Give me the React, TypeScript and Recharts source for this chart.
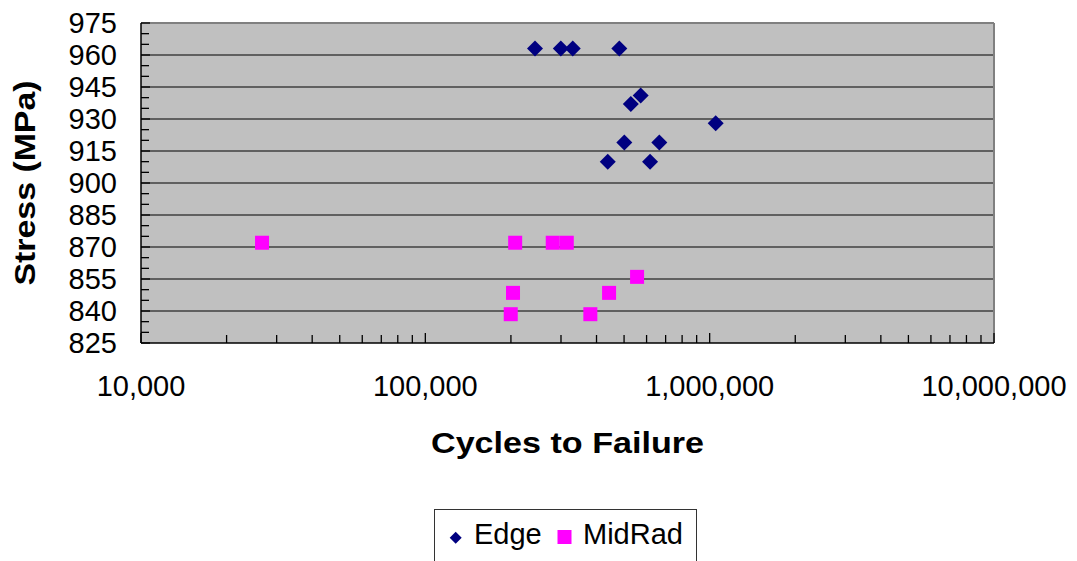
import React from 'react';
import { ScatterChart, Scatter, XAxis, YAxis, CartesianGrid, ReferenceLine, Legend, Label } from 'recharts';

const edgeCycles = [243000, 299500, 330000, 481000, 572000, 528000, 1050000, 501000, 665000, 438000, 617000];
const edgeStress = [963, 963, 963, 963, 941, 937, 928, 919, 919, 910, 910];
const midCycles = [26650, 207000, 280600, 314400, 555500, 203400, 442800, 199700, 380500];
const midStress = [872, 872, 872, 872, 856, 848.5, 848.5, 838.5, 838.5];

const xDecades = [10000, 100000, 1000000, 10000000];
const xMultipliers = [1, 2, 3, 4, 5, 6, 7, 8, 9];
const yMajorTicks = [825, 840, 855, 870, 885, 900, 915, 930, 945, 960, 975];
const yGridValues = [840, 855, 870, 885, 900, 915, 930, 945, 960];

const xTicks: number[] = [];
xDecades.forEach((d, i) => {
  if (i === xDecades.length - 1) xTicks.push(d);
  else xMultipliers.forEach((m) => xTicks.push(d * m));
});
const yTicks: number[] = [];
for (let v = 825; v <= 975; v += 5) yTicks.push(v);

const edgeData = edgeCycles.map((c, i) => ({ x: c, y: edgeStress[i] }));
const midData = midCycles.map((c, i) => ({ x: c, y: midStress[i] }));

const FONT = '"Liberation Sans", Arial, sans-serif';

const XTick = (props: any) => {
  const { x, y, payload } = props;
  const v = payload.value;
  const major = xDecades.includes(v);
  return (
    <g>
      <line x1={x} x2={x} y1={y} y2={y - (major ? 10 : 8)} stroke="#000" strokeWidth={1.3} />
      {major && (
        <text x={x} y={y + 53} textAnchor="middle" fontFamily={FONT} fontSize={29} fill="#000">
          {v.toLocaleString('en-US')}
        </text>
      )}
    </g>
  );
};

const YTick = (props: any) => {
  const { x, y, payload } = props;
  const v = payload.value;
  const major = yMajorTicks.includes(v);
  return (
    <g>
      <line x1={x} x2={x + (major ? 9 : 8)} y1={y} y2={y} stroke="#000" strokeWidth={1.3} />
      {major && (
        <text x={x - 24} y={y + 10} textAnchor="end" fontFamily={FONT} fontSize={29} fill="#000">
          {v}
        </text>
      )}
    </g>
  );
};

const Diamond = (props: any) => {
  const { cx, cy } = props;
  const r = 8;
  return <polygon points={`${cx},${cy - r} ${cx + r},${cy} ${cx},${cy + r} ${cx - r},${cy}`} fill="#000080" />;
};

const Square = (props: any) => {
  const { cx, cy } = props;
  const s = 14;
  return <rect x={cx - s / 2} y={cy - s / 2} width={s} height={s} fill="#FF00FF" />;
};

const LegendBox = () => (
  <div style={{ width: 263, height: 52, boxSizing: 'border-box', border: '1px solid #333', borderBottom: 'none', background: '#fff' }}>
    <svg width={261} height={52} style={{ display: 'block' }}>
      <polygon points="20.7,21.7 26.7,27.7 20.7,33.7 14.7,27.7" fill="#000080" />
      <text x={39} y={34} fontFamily={FONT} fontSize={29} fill="#000">Edge</text>
      <rect x={122.5} y={20} width={14} height={14} fill="#FF00FF" />
      <text x={148} y={34} fontFamily={FONT} fontSize={29} fill="#000">MidRad</text>
    </svg>
  </div>
);

export default function App() {
  return (
    <div style={{ position: 'absolute', left: 0, top: 0, width: 1077, height: 561, overflow: 'hidden', background: '#fff' }}>
      <ScatterChart width={1077} height={561} margin={{ top: 23, right: 83, bottom: 0, left: 0 }}>
        <CartesianGrid fill="#C0C0C0" vertical={false} horizontalValues={yGridValues} stroke="#000" strokeDasharray="" />
        <XAxis
          type="number"
          dataKey="x"
          scale="log"
          domain={[10000, 10000000]}
          allowDataOverflow
          ticks={xTicks}
          interval={0}
          height={218}
          tickSize={0}
          tickMargin={0}
          tickLine={false}
          tick={<XTick />}
          axisLine={{ stroke: '#000', strokeWidth: 1.5 }}
        >
          <Label
            content={(p: any) => {
              const vb = p.viewBox;
              return (
                <text x={vb.x + vb.width / 2} y={453} textAnchor="middle" fontFamily={FONT} fontWeight="bold" fontSize={29} textLength={273} lengthAdjust="spacingAndGlyphs" fill="#000">
                  Cycles to Failure
                </text>
              );
            }}
          />
        </XAxis>
        <YAxis
          type="number"
          dataKey="y"
          domain={[825, 975]}
          allowDataOverflow
          ticks={yTicks}
          interval={0}
          width={141}
          tickSize={0}
          tickMargin={0}
          tickLine={false}
          tick={<YTick />}
          axisLine={{ stroke: '#000', strokeWidth: 1.5 }}
        >
          <Label
            content={(p: any) => {
              const vb = p.viewBox;
              const cy = vb.y + vb.height / 2;
              return (
                <text x={35} y={cy} transform={`rotate(-90 35 ${cy})`} textAnchor="middle" fontFamily={FONT} fontWeight="bold" fontSize={29} textLength={205} lengthAdjust="spacingAndGlyphs" fill="#000">
                  Stress (MPa)
                </text>
              );
            }}
          />
        </YAxis>
        <ReferenceLine y={975} stroke="#808080" strokeWidth={2} />
        <ReferenceLine x={10000000} stroke="#808080" strokeWidth={2} />
        <Scatter name="Edge" data={edgeData} shape={<Diamond />} isAnimationActive={false} />
        <Scatter name="MidRad" data={midData} shape={<Square />} isAnimationActive={false} />
        <Legend
          layout="horizontal"
          verticalAlign="middle"
          align="center"
          wrapperStyle={{ position: 'absolute', left: 434, top: 509, width: 263, height: 52, margin: 0 }}
          content={() => <LegendBox />}
        />
      </ScatterChart>
    </div>
  );
}
